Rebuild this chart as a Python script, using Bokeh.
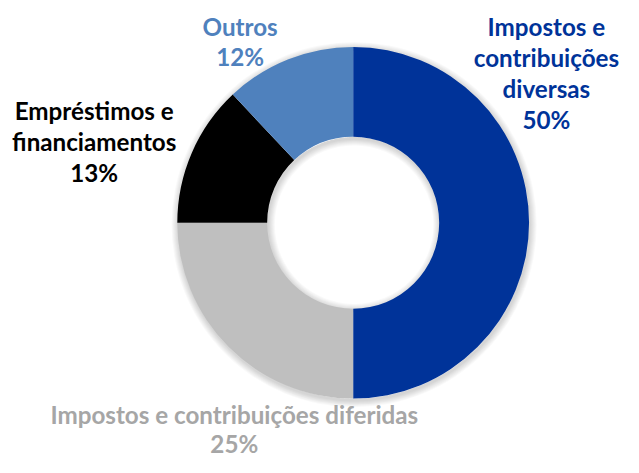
import numpy as np
from bokeh.plotting import figure
from bokeh.models import Range1d, ColumnDataSource
from bokeh.core.properties import value
from bokeh.embed import file_html
from bokeh.resources import INLINE

# ---- data ----
categories = ["Impostos e contribuições diversas",
              "Impostos e contribuições diferidas",
              "Empréstimos e financiamentos",
              "Outros"]
shares = [50, 25, 13, 12]
colors = ["#003399", "#BFBFBF", "#000000", "#4F81BD"]
label_colors = ["#003399", "#A6A6A6", "#000000", "#4F81BD"]
label_lines = [["Impostos e", "contribuições", "diversas"],
               ["Impostos e contribuições diferidas"],
               ["Empréstimos e", "financiamentos"],
               ["Outros"]]

# ---- layout (reference pixel coords, y measured from top) ----
W, H = 623, 457
REF_W, REF_H = 639, 473
s = H / REF_H
def py(y):
    return REF_H - y

cx, cy = 365, py(230)
r_out, r_in = 182, 89
label_pos = [(565, 27), (242, 429), (97, 114), (248, 27)]
label_gap = [32, 30, 32, 31]
fs = f"{25 * s:.1f}px"

p = figure(width=W, height=H, output_backend="svg", toolbar_location=None,
           x_range=Range1d(0, W / s), y_range=Range1d(REF_H - H / s, REF_H),
           min_border=0)
p.axis.visible = False
p.grid.visible = False
p.outline_line_color = None
p.background_fill_color = "white"

# soft shadow
for k in range(1, 8):
    p.annulus(x=cx + 1, y=cy - 2, inner_radius=r_out - 2, outer_radius=r_out + k,
              fill_color="black", fill_alpha=0.025, line_color=None)
    p.annulus(x=cx + 1, y=cy - 2, inner_radius=r_in - k, outer_radius=r_in + 2,
              fill_color="black", fill_alpha=0.025, line_color=None)

vals = np.array(shares, dtype=float)
frac = vals / vals.sum()
cum = np.concatenate([[0], np.cumsum(frac)])
start = np.pi / 2 - 2 * np.pi * cum[:-1]
end = np.pi / 2 - 2 * np.pi * cum[1:]

src = ColumnDataSource(dict(start=start, end=end, color=colors))
p.annular_wedge(x=cx, y=cy, inner_radius=r_in, outer_radius=r_out,
                start_angle="start", end_angle="end", direction="clock",
                fill_color="color", line_color=None, source=src)

# labels
for lines, sh, col, (lx, ly), gap in zip(label_lines, shares, label_colors,
                                         label_pos, label_gap):
    all_lines = lines + [f"{sh}%"]
    ys = [py(ly + i * gap) for i in range(len(all_lines))]
    p.text(x=[lx] * len(all_lines), y=ys, text=all_lines,
           text_font=value("Lato"), text_font_style="bold",
           text_font_size=fs, text_color=col,
           text_align="center", text_baseline="middle")

open("out.html", "w").write(file_html(p, INLINE))
